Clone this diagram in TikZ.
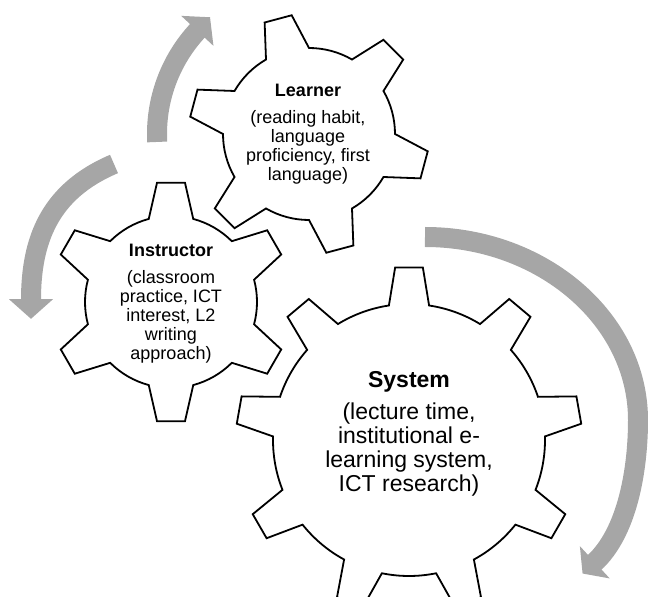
\documentclass[tikz,border=0pt]{standalone}
\usepackage{fontspec}
\setmainfont{Liberation Sans}
\usetikzlibrary{decorations.markings}
\definecolor{arrowgray}{RGB}{166,166,166}
\tikzset{
  arrowshaft/.style={draw=arrowgray, line width=20pt, line cap=butt,
    postaction={decorate, decoration={markings,
      mark=at position 0.999 with {\fill[arrowgray] (-0.6pt,22pt) -- (#1,0pt) -- (-0.6pt,-22pt) -- cycle;}}}},
  gearline/.style={draw=black, fill=white, line width=1.8pt, line join=miter},
  gtext/.style={align=center, inner sep=0pt, text=black},
}
% #1,#2 centre; #3 teeth; #4 tip radius; #5 root radius; #6 tip half-angle; #7 base half-angle; #8 first tooth angle
\newcommand\mygear[8]{%
  \begin{scope}[shift={(#1,#2)}]
    \filldraw[gearline] ({#8-#7}:#5)
      \foreach \k in {1,...,#3}{
        -- ({#8+(\k-1)*360/#3-#6}:#4) -- ({#8+(\k-1)*360/#3+#6}:#4)
        -- ({#8+(\k-1)*360/#3+#7}:#5)
        arc[start angle={#8+(\k-1)*360/#3+#7}, end angle={#8+\k*360/#3-#7}, radius=#5]
      } -- cycle;
  \end{scope}}
\begin{document}
\begin{tikzpicture}[x=1pt,y=1pt]
\useasboundingbox (0,0) rectangle (648,597);
\clip (0,0) rectangle (648,597);
\coordinate (lc) at (309,463);
\coordinate (ic) at (171,295);
\coordinate (sc) at (409,157);
% curved arrows
\draw[arrowshaft=18pt] ([shift={(lc)}]183:152) arc[start angle=183, end angle=137, radius=152];
\draw[arrowshaft=19pt] (114,433) .. controls (49.6,405.7) and (31,357) .. (31,297);
\draw[arrowshaft=16pt] (425,360) .. controls (542,360) and (638,278) .. (638,177)
  .. controls (638,127) and (627.3,64.4) .. (594,34);
% gears
\mygear{171}{295}{6}{120}{86}{6.7}{15}{90}
\mygear{309}{463}{6}{120}{86}{6.7}{15}{105}
\mygear{409}{157}{9}{173}{136}{4.6}{8.5}{90}
% texts
\node[gtext, font=\fontsize{18}{19}\selectfont] (learner) at (308,463)
  {\textbf{Learner}\\[8pt](reading habit,\\language\\proficiency, first\\language)};
\node[gtext, font=\fontsize{18}{19}\selectfont] (instructor) at (171,293.5)
  {\textbf{Instructor}\\[8pt](classroom\\practice, ICT\\interest, L2\\writing\\approach)};
\node[gtext, font=\fontsize{23}{24}\selectfont] (system) at (409,163)
  {\textbf{System}\\[8pt](lecture time,\\institutional e-\\learning system,\\ICT research)};
\end{tikzpicture}
\end{document}
